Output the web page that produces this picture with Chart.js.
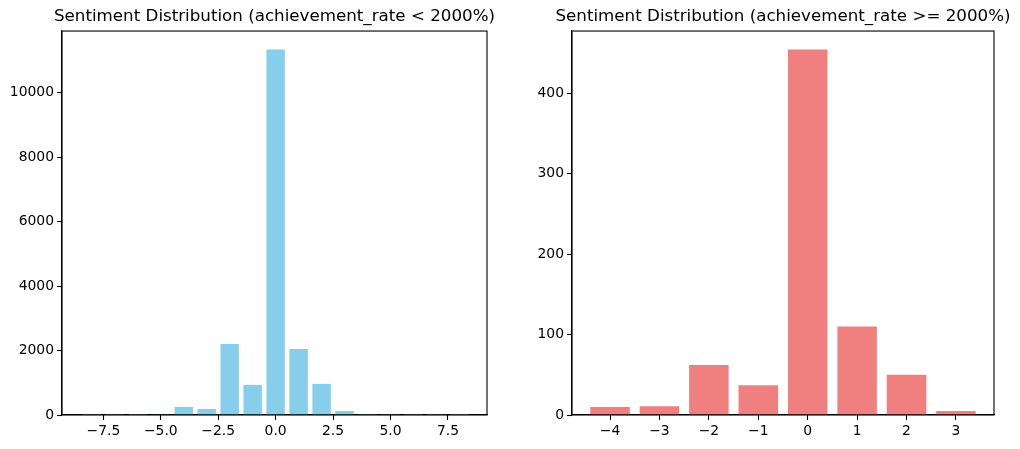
<!DOCTYPE html>
<html>
<head>
<meta charset="utf-8">
<script src="https://cdn.jsdelivr.net/npm/chart.js@4.4.0/dist/chart.umd.min.js"></script>
<style>
  body { margin: 0; background: #fff; }
  #wrap { position: relative; width: 1020px; height: 449px; }
  .box { position: absolute; top: 0; width: 510px; height: 449px; }
  #boxLow { left: 0; }
  #boxHigh { left: 510px; }
</style>
</head>
<body>
<div id="wrap">
  <div class="box" id="boxLow"><canvas id="ChartLow"></canvas></div>
  <div class="box" id="boxHigh"><canvas id="ChartHigh"></canvas></div>
</div>
<script>
// Left chart: achievement_rate < 2000%
var sentimentLow = [-8, -7, -6, -5, -4, -3, -2, -1, 0, 1, 2, 3, 4, 5, 6, 7, 8];
var countsLow    = [2, 3, 30, 8, 250, 188, 2200, 935, 11340, 2050, 965, 125, 28, 6, 3, 2, 1];
var xTicksLow    = [-7.5, -5, -2.5, 0, 2.5, 5, 7.5];
var yTicksLow    = [0, 2000, 4000, 6000, 8000, 10000];

// Right chart: achievement_rate >= 2000%
var sentimentHigh = [-4, -3, -2, -1, 0, 1, 2, 3];
var countsHigh    = [10, 11, 62, 37, 454, 110, 50, 5];
var xTicksHigh    = [-4, -3, -2, -1, 0, 1, 2, 3];
var yTicksHigh    = [0, 100, 200, 300, 400];

var fontFamily = "'DejaVu Sans', sans-serif";

// Draws the box around the plot area (matplotlib spines)
// and lets the title run wider than the plot area so it is not squeezed
var framePlugin = {
  id: 'frame',
  afterLayout: function(chart){
    var t = chart.titleBlock;
    if(t){
      var mid = (chart.chartArea.left + chart.chartArea.right) / 2;
      t.left = mid - 255;
      t.right = mid + 255;
      t.width = 510;
    }
  },
  afterDraw: function(chart){
    var a = chart.chartArea;
    var ctx = chart.ctx;
    ctx.save();
    ctx.strokeStyle = '#000';
    ctx.lineWidth = 1.1;
    ctx.strokeRect(a.left, a.top, a.right - a.left, a.bottom - a.top);
    ctx.restore();
  }
};

function minusSign(s){
  return String(s).replace('-', '\u2212');
}

function tickList(values){
  return values.map(function(v){ return {value: v}; });
}

// Creates Bar Chart
function makeBarChart(canvas, titleText, xs, ys, color, xMin, xMax, xTicks, xFmt, yMax, yTicks, padRight){
  var points = xs.map(function(x, i){ return {x: x, y: ys[i]}; });
  return new Chart(canvas, {
    type: 'bar',
    data: {
      datasets: [{
        data: points,
        backgroundColor: color,
        borderWidth: 0,
        barPercentage: 1.0,
        categoryPercentage: 0.8
      }]
    },
    plugins: [framePlugin],
    options: {
      responsive: false,
      animation: false,
      devicePixelRatio: 1,
      layout: { padding: { left: 0, right: padRight, top: 0, bottom: 0 } },
      plugins: {
        legend: { display: false },
        tooltip: { enabled: false },
        title: {
          display: true,
          text: titleText,
          fullSize: false,
          color: '#000',
          font: { family: fontFamily, size: 16.7, weight: 'normal', lineHeight: 1.2 },
          padding: { top: 7, bottom: 4 }
        }
      },
      scales: {
        x: {
          type: 'linear',
          min: xMin,
          max: xMax,
          offset: false,
          afterBuildTicks: function(scale){ scale.ticks = tickList(xTicks); },
          afterFit: function(scale){ scale.height = 34; },
          grid: { display: true, offset: false, drawOnChartArea: false, drawTicks: true, tickLength: 5, tickColor: '#000', tickWidth: 1.1 },
          border: { display: true, color: '#000', width: 1.1 },
          ticks: {
            color: '#000',
            padding: 3,
            maxRotation: 0,
            autoSkip: false,
            font: { family: fontFamily, size: 13.9 },
            callback: function(v){ return minusSign(xFmt(v)); }
          }
        },
        y: {
          min: 0,
          max: yMax,
          afterBuildTicks: function(scale){ scale.ticks = tickList(yTicks); },
          afterFit: function(scale){ scale.width = 62; },
          grid: { display: true, drawOnChartArea: false, drawTicks: true, tickLength: 5, tickColor: '#000', tickWidth: 1.1 },
          border: { display: true, color: '#000', width: 1.1 },
          ticks: {
            color: '#000',
            padding: 3,
            autoSkip: false,
            font: { family: fontFamily, size: 13.9 },
            callback: function(v){ return String(v); }
          }
        }
      }
    }
  });
}

function setSize(id, w, h){
  var c = document.getElementById(id);
  c.width = w;
  c.height = h;
  c.style.width = w + 'px';
  c.style.height = h + 'px';
}

setSize('ChartLow', 510, 449);
setSize('ChartHigh', 510, 449);

var chartLow = makeBarChart(document.getElementById('ChartLow'),
  'Sentiment Distribution (achievement_rate < 2000%)',
  sentimentLow, countsLow, '#87CEEB',
  -9.3, 9.2, xTicksLow, function(v){ return v.toFixed(1); },
  11910, yTicksLow, 23);

var chartHigh = makeBarChart(document.getElementById('ChartHigh'),
  'Sentiment Distribution (achievement_rate >= 2000%)',
  sentimentHigh, countsHigh, '#F08080',
  -4.77, 3.77, xTicksHigh, function(v){ return String(v); },
  477, yTicksHigh, 26);
</script>
</body>
</html>
